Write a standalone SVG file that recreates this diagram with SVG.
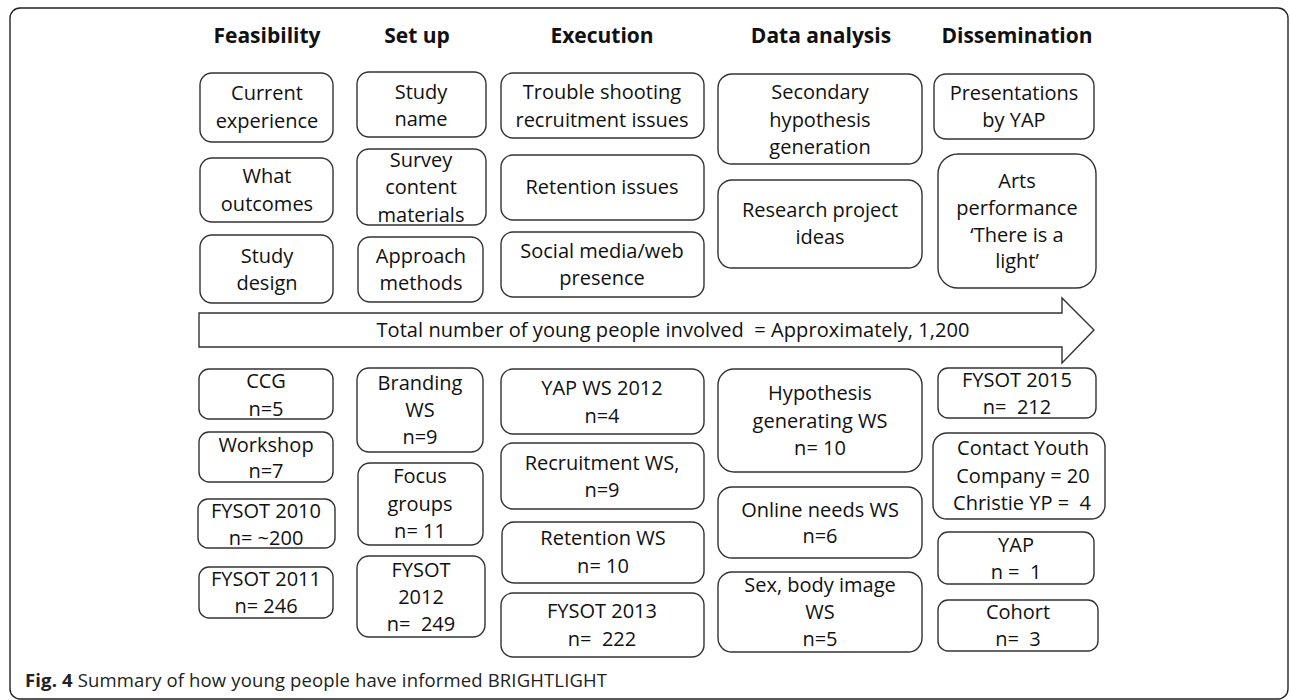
<svg xmlns="http://www.w3.org/2000/svg" width="1290" height="700" viewBox="0 0 1290 700">
<style>
text{white-space:pre}
.frame{fill:none;stroke:#222;stroke-width:1.4}
.box{fill:#fff;stroke:#333;stroke-width:1.4}
.t{font-family:"Open Sans","Liberation Sans",sans-serif;font-size:20px;fill:#111;text-anchor:middle}
.h{font-family:"Open Sans","Liberation Sans",sans-serif;font-size:21px;font-weight:bold;fill:#111;text-anchor:middle}
.cap{font-family:"Open Sans","Liberation Sans",sans-serif;font-size:18.5px;fill:#222}
</style>
<rect width="1290" height="700" fill="#fff"/>
<rect class="frame" x="10" y="8" width="1278" height="691" rx="10"/>
<g id="headers">
<text class="h" x="267" y="43">Feasibility</text>
<text class="h" x="417" y="43">Set up</text>
<text class="h" x="602" y="43">Execution</text>
<text class="h" x="821" y="43">Data analysis</text>
<text class="h" x="1017" y="43">Dissemination</text>
</g>
<g id="connectors">
<polygon id="total-arrow" class="box" points="199,313 1062,313 1062,298 1094,330 1062,363 1062,347 199,347"/>
<text class="t" x="673" y="337" textLength="593">Total number of young people involved  = Approximately, 1,200</text>
</g>
<g id="n-current"><rect class="box" x="200" y="73" width="133" height="69" rx="12"/><text class="t" x="267" y="100">Current</text><text class="t" x="267" y="128">experience</text></g>
<g id="n-outcomes"><rect class="box" x="200" y="158" width="133" height="64" rx="12"/><text class="t" x="267" y="183">What</text><text class="t" x="267" y="211">outcomes</text></g>
<g id="n-design"><rect class="box" x="200" y="235" width="133" height="68" rx="12"/><text class="t" x="267" y="263">Study</text><text class="t" x="267" y="290">design</text></g>
<g id="n-studyname"><rect class="box" x="357" y="72" width="129" height="65" rx="12"/><text class="t" x="421" y="99">Study</text><text class="t" x="421" y="126">name</text></g>
<g id="n-survey"><rect class="box" x="357" y="149" width="129" height="76" rx="12"/><text class="t" x="421" y="167">Survey</text><text class="t" x="421" y="194">content</text><text class="t" x="421" y="222">materials</text></g>
<g id="n-approach"><rect class="box" x="358" y="237" width="125" height="65" rx="12"/><text class="t" x="421" y="263">Approach</text><text class="t" x="421" y="290">methods</text></g>
<g id="n-trouble"><rect class="box" x="501" y="73" width="203" height="65" rx="12"/><text class="t" x="602" y="99">Trouble shooting</text><text class="t" x="602" y="127">recruitment issues</text></g>
<g id="n-retention"><rect class="box" x="501" y="155" width="203" height="65" rx="12"/><text class="t" x="602" y="194">Retention issues</text></g>
<g id="n-social"><rect class="box" x="501" y="232" width="203" height="65" rx="12"/><text class="t" x="602" y="258">Social media/web</text><text class="t" x="602" y="285">presence</text></g>
<g id="n-secondary"><rect class="box" x="718" y="74" width="204" height="90" rx="14"/><text class="t" x="820" y="99">Secondary</text><text class="t" x="820" y="127">hypothesis</text><text class="t" x="820" y="154">generation</text></g>
<g id="n-research"><rect class="box" x="718" y="180" width="204" height="88" rx="14"/><text class="t" x="820" y="217">Research project</text><text class="t" x="820" y="244">ideas</text></g>
<g id="n-presentations"><rect class="box" x="934" y="74" width="160" height="65" rx="12"/><text class="t" x="1014" y="100">Presentations</text><text class="t" x="1014" y="127">by YAP</text></g>
<g id="n-arts"><rect class="box" x="938" y="154" width="158" height="134" rx="20"/><text class="t" x="1017" y="188">Arts</text><text class="t" x="1017" y="215">performance</text><text class="t" x="1017" y="242">‘There is a</text><text class="t" x="1017" y="268">light’</text></g>
<g id="n-ccg"><rect class="box" x="199" y="369" width="134" height="50" rx="10"/><text class="t" x="266" y="388">CCG</text><text class="t" x="266" y="416">n=5</text></g>
<g id="n-workshop"><rect class="box" x="199" y="432" width="134" height="50" rx="10"/><text class="t" x="266" y="452">Workshop</text><text class="t" x="266" y="478">n=7</text></g>
<g id="n-fysot2010"><rect class="box" x="198" y="499" width="137" height="49" rx="10"/><text class="t" x="266" y="518">FYSOT 2010</text><text class="t" x="266" y="545">n= ~200</text></g>
<g id="n-fysot2011"><rect class="box" x="199" y="567" width="134" height="51" rx="10"/><text class="t" x="266" y="586">FYSOT 2011</text><text class="t" x="266" y="613">n= 246</text></g>
<g id="n-branding"><rect class="box" x="357" y="368" width="126" height="84" rx="12"/><text class="t" x="420" y="390">Branding</text><text class="t" x="420" y="417">WS</text><text class="t" x="420" y="444">n=9</text></g>
<g id="n-focus"><rect class="box" x="358" y="463" width="125" height="82" rx="12"/><text class="t" x="420" y="483">Focus</text><text class="t" x="420" y="511">groups</text><text class="t" x="420" y="538">n= 11</text></g>
<g id="n-fysot2012"><rect class="box" x="357" y="556" width="128" height="81" rx="12"/><text class="t" x="421" y="577">FYSOT</text><text class="t" x="421" y="604">2012</text><text class="t" x="421" y="631">n=  249</text></g>
<g id="n-yapws"><rect class="box" x="501" y="369" width="203" height="65" rx="12"/><text class="t" x="602" y="395">YAP WS 2012</text><text class="t" x="602" y="423">n=4</text></g>
<g id="n-recruitws"><rect class="box" x="501" y="443" width="203" height="66" rx="12"/><text class="t" x="602" y="470">Recruitment WS,</text><text class="t" x="602" y="497">n=9</text></g>
<g id="n-retentionws"><rect class="box" x="502" y="522" width="202" height="61" rx="12"/><text class="t" x="603" y="545">Retention WS</text><text class="t" x="603" y="573">n= 10</text></g>
<g id="n-fysot2013"><rect class="box" x="501" y="593" width="203" height="64" rx="12"/><text class="t" x="602" y="618">FYSOT 2013</text><text class="t" x="602" y="646">n=  222</text></g>
<g id="n-hypothesis"><rect class="box" x="718" y="369" width="204" height="103" rx="16"/><text class="t" x="820" y="400">Hypothesis</text><text class="t" x="820" y="428">generating WS</text><text class="t" x="820" y="455">n= 10</text></g>
<g id="n-online"><rect class="box" x="718" y="487" width="204" height="71" rx="14"/><text class="t" x="820" y="517">Online needs WS</text><text class="t" x="820" y="543">n=6</text></g>
<g id="n-sex"><rect class="box" x="718" y="572" width="204" height="80" rx="14"/><text class="t" x="820" y="592">Sex, body image</text><text class="t" x="820" y="619">WS</text><text class="t" x="820" y="646">n=5</text></g>
<g id="n-fysot2015"><rect class="box" x="938" y="368" width="158" height="50" rx="10"/><text class="t" x="1017" y="387">FYSOT 2015</text><text class="t" x="1017" y="414">n=  212</text></g>
<g id="n-contact"><rect class="box" x="933" y="433" width="172" height="86" rx="14"/><text class="t" x="1023" y="455">Contact Youth</text><text class="t" x="1023" y="483">Company = 20</text><text class="t" x="1022" y="510">Christie YP =  4</text></g>
<g id="n-yap"><rect class="box" x="938" y="532" width="156" height="52" rx="10"/><text class="t" x="1016" y="552">YAP</text><text class="t" x="1016" y="579">n =  1</text></g>
<g id="n-cohort"><rect class="box" x="938" y="600" width="160" height="51" rx="10"/><text class="t" x="1018" y="619">Cohort</text><text class="t" x="1018" y="646">n=  3</text></g>
<text class="cap" x="25" y="687" textLength="582"><tspan font-weight="bold">Fig. 4</tspan> Summary of how young people have informed BRIGHTLIGHT</text>
</svg>
